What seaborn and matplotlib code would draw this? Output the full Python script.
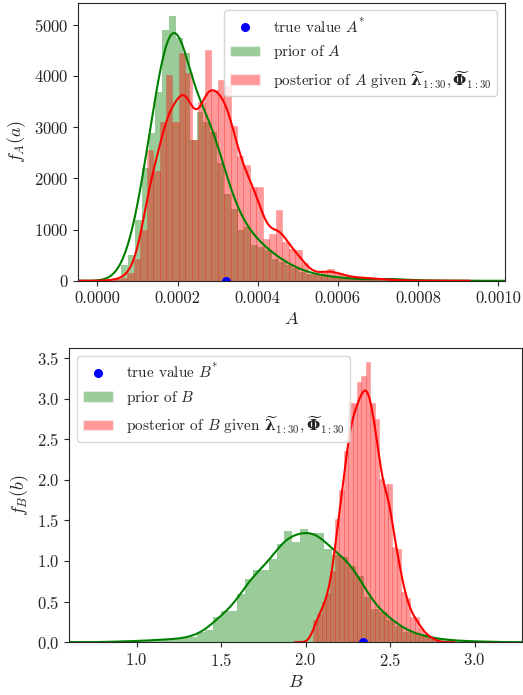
import numpy as np
import pandas as pd
import matplotlib
matplotlib.use("Agg")
import matplotlib.pyplot as plt
import seaborn as sns
from matplotlib.patches import Patch
from matplotlib.lines import Line2D

# histogram bins (left edge, width) and bar heights (density)
a_prior_lo, a_prior_w = 4.24e-5, 1.708e-5
a_prior_h = [30, 300, 500, 1190, 2195, 2890, 3695, 4900, 5170, 4750,
             4440, 2750, 3300, 3100, 2900, 2300, 1700, 1410, 990, 1050,
             695, 660, 600, 430, 370, 300, 240, 175, 140, 110,
             100, 80, 60, 50, 40, 30, 25, 20, 30, 40,
             40, 30, 20, 10, 10, 5, 5, 5, 5, 5]
a_post_lo, a_post_w = 2.64e-5, 1.61e-5
a_post_h = [15, 30, 60, 150, 430, 1000, 2550, 2150, 3100, 4020,
            3100, 4450, 4050, 2750, 3500, 4510, 3730, 3920, 3800, 3020,
            2430, 2260, 1840, 1830, 825, 920, 1380, 760, 630, 600,
            340, 140, 140, 200, 230, 160, 120, 80, 70, 60,
            55, 50, 30, 20, 15, 10, 5, 5, 0, 5]
b_prior_lo, b_prior_w = 0.7985, 0.0468
b_prior_h = [0.005, 0.005, 0.01, 0.01, 0.015, 0.02, 0.025, 0.03, 0.035, 0.04,
             0.05, 0.062, 0.12, 0.152, 0.308, 0.382, 0.38, 0.595, 0.772, 0.883,
             0.883, 1.026, 1.203, 1.375, 1.232, 1.388, 1.34, 1.34, 1.15, 1.07,
             1.05, 0.944, 0.82, 0.554, 0.41, 0.37, 0.27, 0.205, 0.123, 0.11,
             0.08, 0.05, 0.04, 0.03, 0.02, 0.015, 0.01, 0.01, 0.005, 0.005]
b_post_lo, b_post_w = 2.042, 0.0262
b_post_h = [0.267, 0.35, 0.49, 0.60, 0.88, 1.52, 1.87, 2.36, 2.94, 2.95,
            3.20, 3.28, 3.45, 2.94, 2.75, 2.01, 1.95, 1.95, 1.17, 1.15,
            0.62, 0.55, 0.31, 0.31, 0.18, 0.10, 0.07, 0.04]

a_true = 0.00032
b_true = 2.339

sns.set_style("ticks")
plt.rcParams['font.family'] = 'serif'
plt.rcParams['font.serif'] = ['cmr10']
plt.rcParams['mathtext.fontset'] = 'custom'
plt.rcParams['mathtext.rm'] = 'cmr10'
plt.rcParams['mathtext.it'] = 'cmmi10'
plt.rcParams['mathtext.bf'] = 'DejaVu Serif:bold'
plt.rcParams['mathtext.bfit'] = 'DejaVu Serif:italic:bold'
plt.rcParams['axes.formatter.use_mathtext'] = True
plt.rcParams['axes.unicode_minus'] = False


def draw(ax, lo, w, h, color, edge):
    edges = lo + w * np.arange(len(h) + 1)
    df = pd.DataFrame({'x': edges[:-1] + w / 2, 'h': h})
    sns.histplot(data=df, x='x', weights='h', bins=list(edges), stat='count',
                 color=color, alpha=0.4, edgecolor=edge, linewidth=0.5, ax=ax)
    return df


def kde(ax, df, color, bw):
    sns.kdeplot(data=df, x='x', weights='h', bw_adjust=bw, color=color,
                lw=1.5, ax=ax)


fig = plt.figure(figsize=(5.23, 6.95), dpi=100)
ax1 = fig.add_axes([0.149, 0.596, 0.816, 0.400])
ax2 = fig.add_axes([0.132, 0.076, 0.866, 0.423])

seam = (1, 0, 0, 0.25)

# top: A
d1 = draw(ax1, a_prior_lo, a_prior_w, a_prior_h, 'g', 'none')
d2 = draw(ax1, a_post_lo, a_post_w, a_post_h, 'r', seam)
kde(ax1, d1, 'g', 0.5)
kde(ax1, d2, 'r', 0.33)
ax1.plot([a_true], [0], 'bo', ms=5.5)
ax1.set_xlim(-0.0000484, 0.001016)
ax1.set_ylim(0, 5430)
ax1.set_xticks([0, 0.0002, 0.0004, 0.0006, 0.0008, 0.0010])
ax1.set_xticklabels(['0.0000', '0.0002', '0.0004', '0.0006', '0.0008', '0.0010'])
ax1.set_xlabel('$A$', fontsize=13)
ax1.set_ylabel('$f_A(a)$', fontsize=13)

# bottom: B
d3 = draw(ax2, b_prior_lo, b_prior_w, b_prior_h, 'g', 'none')
d4 = draw(ax2, b_post_lo, b_post_w, b_post_h, 'r', seam)
kde(ax2, d3, 'g', 0.4)
kde(ax2, d4, 'r', 0.36)
ax2.plot([b_true], [0], 'bo', ms=5.5)
ax2.set_xlim(0.60, 3.28)
ax2.set_ylim(0, 3.62)
ax2.set_xlabel('$B$', fontsize=13)
ax2.set_ylabel('$f_B(b)$', fontsize=13)

given = r'$\widetilde{\boldsymbol{\lambda}}_{1:30}, \widetilde{\mathbf{\Phi}}_{1:30}$'
for ax, v, loc in [(ax1, 'A', 'upper right'), (ax2, 'B', 'upper left')]:
    ax.tick_params(labelsize=12)
    handles = [Line2D([], [], color='b', marker='o', ls='', ms=5.5),
               Patch(facecolor='g', alpha=0.4),
               Patch(facecolor='r', alpha=0.4)]
    labels = ['true value $%s^{*}$' % v, 'prior of $%s$' % v,
              'posterior of $%s$ given ' % v + given]
    ax.legend(handles, labels, loc=loc, fontsize=11)

fig.savefig('out.png', dpi=100)
